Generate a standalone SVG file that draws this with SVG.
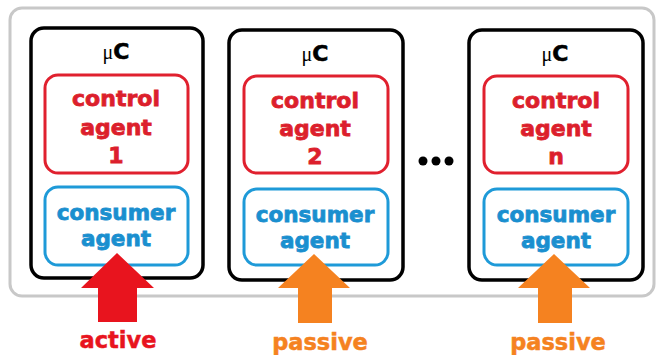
<svg xmlns="http://www.w3.org/2000/svg" width="656" height="355" viewBox="0 0 656 355">
  <style>
    .frame { fill: #ffffff; stroke: #c8c8c8; stroke-width: 3; }
    .mc { fill: #ffffff; stroke: #000000; stroke-width: 3.5; }
    .ctl { fill: #ffffff; stroke: #e0202e; stroke-width: 3; }
    .cons { fill: #ffffff; stroke: #1e9ad8; stroke-width: 3; }
    text { font-family: "DejaVu Sans", "Liberation Sans", sans-serif; font-weight: bold; text-anchor: middle; }
    .t-ctl { fill: #dc1f2c; stroke: #dc1f2c; stroke-width: 0.8; font-size: 22px; }
    .t-cons { fill: #1a8fcf; stroke: #1a8fcf; stroke-width: 0.8; font-size: 21.5px; }
    .t-mc { fill: #000000; font-size: 22px; stroke: #000000; stroke-width: 0.6; }
    .mu { font-family: "Liberation Serif", serif; font-weight: normal; font-size: 20px; stroke-width: 0; }
    .red { fill: #e8141e; }
    .orange { fill: #f58220; }
    .t-red { fill: #e8141e; stroke: #e8141e; stroke-width: 0.5; font-size: 22.5px; }
    .t-orange { fill: #f58220; stroke: #f58220; stroke-width: 0.5; font-size: 22.5px; }
  </style>

  <!-- outer frame -->
  <rect class="frame" x="10" y="8" width="644" height="288" rx="12"/>

  <!-- microcontroller 1 -->
  <g id="mc1">
    <rect class="mc" x="31" y="28" width="172" height="250" rx="13"/>
    <text class="t-mc" x="116" y="59"><tspan class="mu">μ</tspan>C</text>
    <g id="control1">
      <rect class="ctl" x="45" y="75" width="143" height="98" rx="13"/>
      <text class="t-ctl" x="116" y="106">control</text>
      <text class="t-ctl" x="116" y="135">agent</text>
      <text class="t-ctl" x="116" y="163">1</text>
    </g>
    <g id="consumer1">
      <rect class="cons" x="45" y="187" width="143" height="78" rx="13"/>
      <text class="t-cons" x="116" y="220">consumer</text>
      <text class="t-cons" x="116" y="246">agent</text>
    </g>
  </g>

  <!-- microcontroller 2 -->
  <g id="mc2">
    <rect class="mc" x="229" y="30" width="174" height="250" rx="13"/>
    <text class="t-mc" x="315" y="61"><tspan class="mu">μ</tspan>C</text>
    <g id="control2">
      <rect class="ctl" x="244" y="76" width="144" height="97" rx="13"/>
      <text class="t-ctl" x="315" y="108">control</text>
      <text class="t-ctl" x="315" y="136">agent</text>
      <text class="t-ctl" x="315" y="164">2</text>
    </g>
    <g id="consumer2">
      <rect class="cons" x="244" y="189" width="144" height="76" rx="13"/>
      <text class="t-cons" x="315" y="222">consumer</text>
      <text class="t-cons" x="315" y="248">agent</text>
    </g>
  </g>

  <!-- ellipsis between units -->
  <g id="ellipsis" fill="#000000">
    <circle cx="423" cy="161" r="4.5"/>
    <circle cx="436" cy="161" r="4.5"/>
    <circle cx="449" cy="161" r="4.5"/>
  </g>

  <!-- microcontroller n -->
  <g id="mcn">
    <rect class="mc" x="469" y="30" width="174" height="250" rx="13"/>
    <text class="t-mc" x="555" y="61"><tspan class="mu">μ</tspan>C</text>
    <g id="controln">
      <rect class="ctl" x="484" y="76" width="144" height="97" rx="13"/>
      <text class="t-ctl" x="556" y="108">control</text>
      <text class="t-ctl" x="556" y="136">agent</text>
      <text class="t-ctl" x="556" y="164">n</text>
    </g>
    <g id="consumern">
      <rect class="cons" x="484" y="189" width="144" height="76" rx="13"/>
      <text class="t-cons" x="556" y="222">consumer</text>
      <text class="t-cons" x="556" y="248">agent</text>
    </g>
  </g>

  <!-- input arrows -->
  <g id="connectors">
    <path class="red" d="M117 253 L154 288 L137 288 L137 322 L98 322 L98 288 L81 288 Z"/>
    <path class="orange" d="M314 254 L350 288 L332 288 L332 323 L298 323 L298 288 L278 288 Z"/>
    <path class="orange" d="M554 254 L590 288 L572 288 L572 323 L538 323 L538 288 L518 288 Z"/>
  </g>

  <!-- mode labels -->
  <text class="t-red" x="118" y="348">active</text>
  <text class="t-orange" x="320" y="350">passive</text>
  <text class="t-orange" x="558" y="350">passive</text>
</svg>
